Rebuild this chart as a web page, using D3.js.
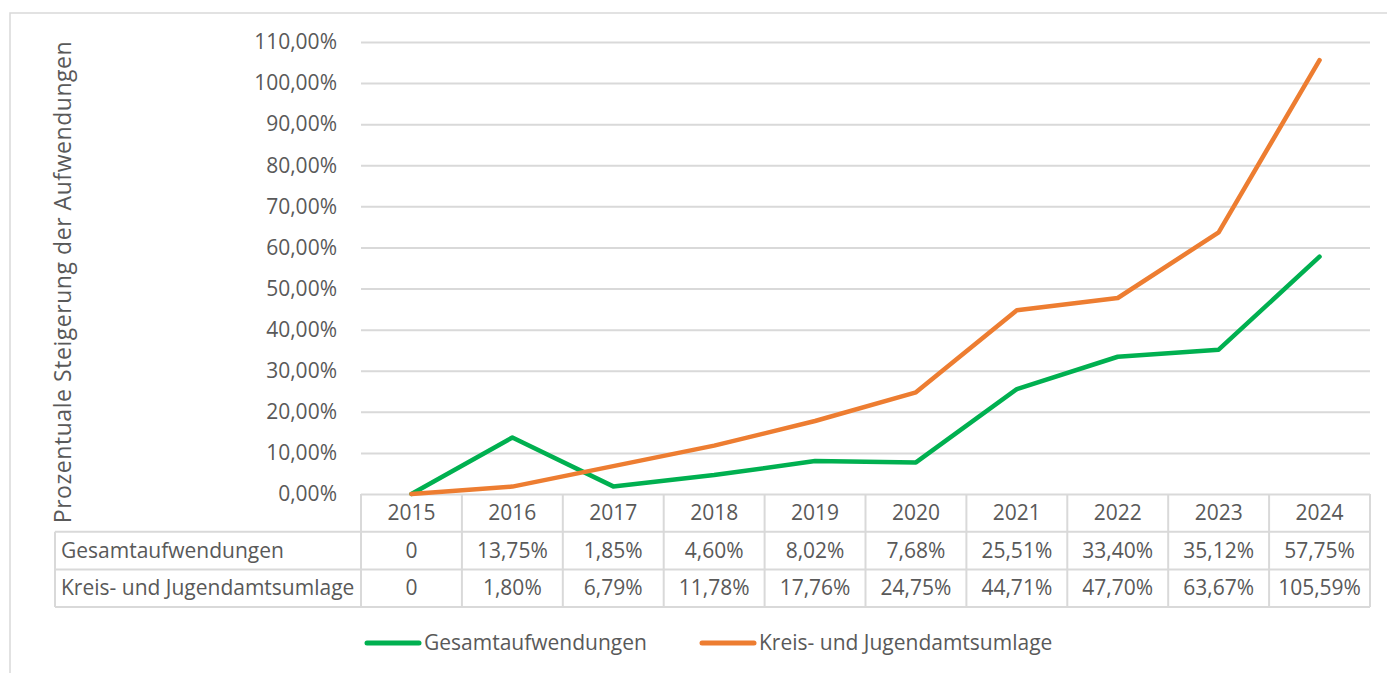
<!DOCTYPE html>
<html>
<head>
<meta charset="utf-8">
<script src="https://cdn.jsdelivr.net/npm/d3@7"></script>
<style>
  body { margin: 0; background: #fff; }
  svg text { font-family: "Open Sans", sans-serif; fill: #595959; }
</style>
</head>
<body>
<div id="chart"></div>
<script>
// data
var years = ["2015", "2016", "2017", "2018", "2019", "2020", "2021", "2022", "2023", "2024"];
var seriesNames = ["Gesamtaufwendungen", "Kreis- und Jugendamtsumlage"];
var gesamt = [0, 13.75, 1.85, 4.60, 8.02, 7.68, 25.51, 33.40, 35.12, 57.75];
var umlage = [0, 1.80, 6.79, 11.78, 17.76, 24.75, 44.71, 47.70, 63.67, 105.59];
var yTicks = [0, 10, 20, 30, 40, 50, 60, 70, 80, 90, 100, 110];
var colors = ["#00b050", "#ed7d31"];

var W = 1387, H = 673;
var plot = {left: 361, right: 1370, top: 42, bottom: 494};
var rowH = 37.7;
var tableLeft = 55;
var grid = "#d9d9d9";
var fs = "21px";

var de = d3.formatLocale({decimal: ",", thousands: ".", grouping: [3], currency: ["", " €"]});
var pct = function(v) { return de.format(".2f")(v) + "%"; };

var svg = d3.select("#chart").append("svg")
  .attr("width", W)
  .attr("height", H);

// chart border
svg.append("rect")
  .attr("x", 10).attr("y", 13)
  .attr("width", W + 20).attr("height", H + 20)
  .attr("fill", "none").attr("stroke", grid).attr("stroke-width", 1.5);

var x = d3.scaleBand().domain(years).range([plot.left, plot.right]);
var y = d3.scaleLinear().domain([0, 110]).range([plot.bottom, plot.top]);

// y axis with gridlines
var yAxis = svg.append("g")
  .attr("transform", "translate(" + plot.left + ",0)")
  .call(d3.axisLeft(y).tickValues(yTicks)
    .tickSize(-(plot.right - plot.left))
    .tickPadding(24)
    .tickFormat(pct));
yAxis.select(".domain").remove();
yAxis.selectAll(".tick line").attr("stroke", grid).attr("stroke-width", 2);
yAxis.selectAll(".tick text")
  .style("font-size", fs)
  .style("font-family", "'Open Sans', sans-serif")
  .attr("fill", "#595959");

// y axis title
svg.append("text")
  .attr("transform", "translate(71,282) rotate(-90)")
  .attr("text-anchor", "middle")
  .style("font-size", "23px")
  .style("letter-spacing", "0.55px")
  .text("Prozentuale Steigerung der Aufwendungen");

// data table
var table = svg.append("g");
var rowsY = [plot.bottom, plot.bottom + rowH, plot.bottom + 2 * rowH, plot.bottom + 3 * rowH];
var tableLines = table.append("g").attr("stroke", grid).attr("stroke-width", 2);
// horizontal lines
[1, 2, 3].forEach(function(r) {
  tableLines.append("line").attr("x1", tableLeft).attr("x2", plot.right)
    .attr("y1", rowsY[r]).attr("y2", rowsY[r]);
});
tableLines.append("line").attr("x1", tableLeft).attr("x2", tableLeft)
  .attr("y1", rowsY[1]).attr("y2", rowsY[3]);
// vertical lines
tableLines.selectAll(".vline")
  .data(years.concat(["end"]))
  .enter().append("line")
  .attr("x1", function(d, i) { return plot.left + i * x.bandwidth(); })
  .attr("x2", function(d, i) { return plot.left + i * x.bandwidth(); })
  .attr("y1", rowsY[0]).attr("y2", rowsY[3]);

// header row
table.selectAll(".yr")
  .data(years)
  .enter().append("text")
  .attr("x", function(d) { return x(d) + x.bandwidth() / 2; })
  .attr("y", rowsY[0] + rowH / 2 + 7)
  .attr("text-anchor", "middle")
  .style("font-size", fs)
  .text(function(d) { return d; });

var allSeries = [gesamt, umlage];
allSeries.forEach(function(vals, s) {
  table.append("text")
    .attr("x", tableLeft + 6)
    .attr("y", rowsY[s + 1] + rowH / 2 + 7)
    .style("font-size", fs)
    .text(seriesNames[s]);
  table.selectAll(".v" + s)
    .data(vals)
    .enter().append("text")
    .attr("x", function(d, i) { return x(years[i]) + x.bandwidth() / 2; })
    .attr("y", rowsY[s + 1] + rowH / 2 + 7)
    .attr("text-anchor", "middle")
    .style("font-size", fs)
    .text(function(d) { return d === 0 ? "0" : pct(d); });
});

// lines
var line = d3.line()
  .x(function(d, i) { return x(years[i]) + x.bandwidth() / 2; })
  .y(function(d) { return y(d); });

allSeries.forEach(function(vals, s) {
  svg.append("path")
    .datum(vals)
    .attr("fill", "none")
    .attr("stroke", colors[s])
    .attr("stroke-width", 4.5)
    .attr("stroke-linecap", "round")
    .attr("stroke-linejoin", "round")
    .attr("d", line);
});

// legend
var legendX = [365, 700];
var lg = svg.append("g");
legendX.forEach(function(lx, i) {
  lg.append("line")
    .attr("x1", lx + 2).attr("x2", lx + 54)
    .attr("y1", 643).attr("y2", 643)
    .attr("stroke", colors[i]).attr("stroke-width", 5)
    .attr("stroke-linecap", "round");
  lg.append("text")
    .attr("x", lx + 59).attr("y", 650)
    .style("font-size", fs)
    .text(seriesNames[i]);
});
</script>
</body>
</html>
